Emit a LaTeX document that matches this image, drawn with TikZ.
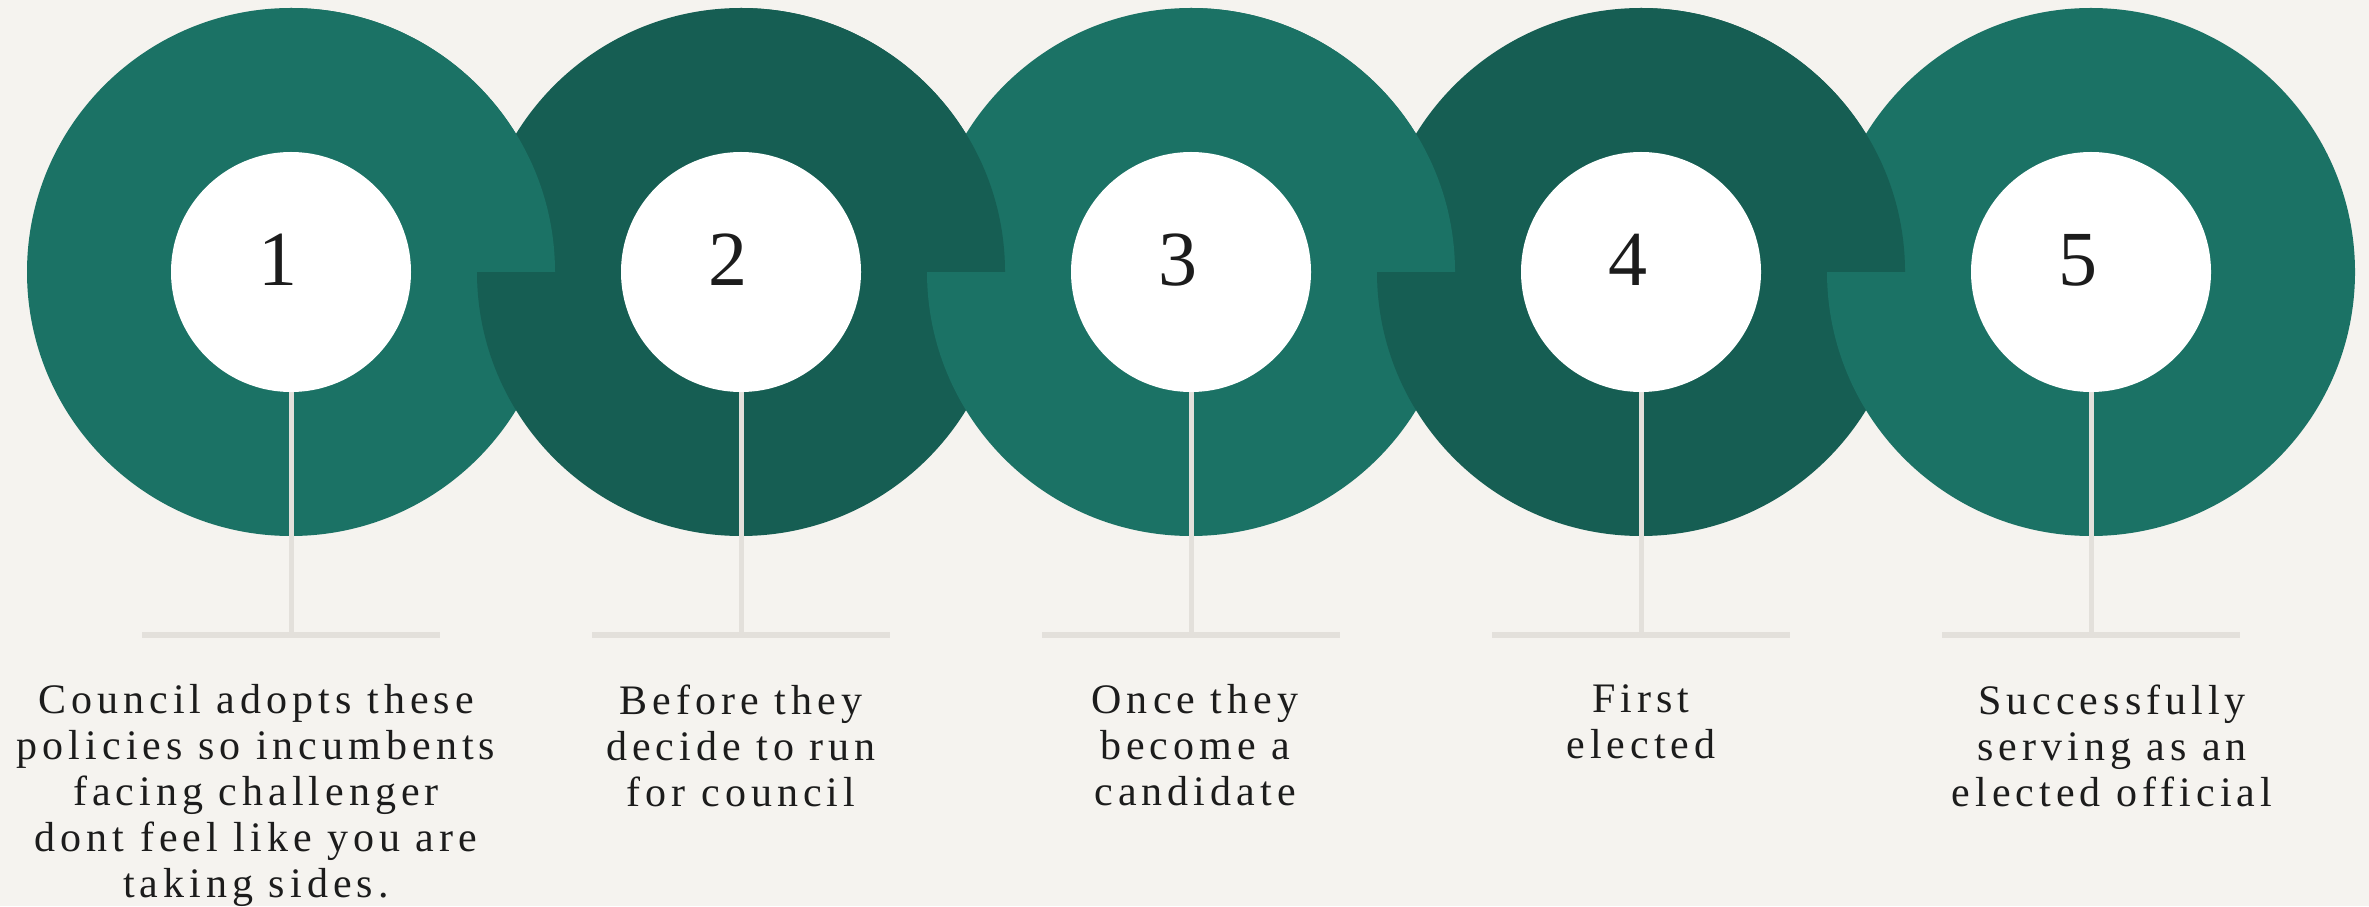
\documentclass[tikz,border=0pt]{standalone}
\usepackage{fontspec}
\setmainfont{Liberation Serif}
\newfontfamily\spacedserif[LetterSpace=12]{Liberation Serif}
\usepackage{xcolor}
\usetikzlibrary{positioning}

\definecolor{paper}{HTML}{F5F3EF}
\definecolor{tealA}{HTML}{1B7265}
\definecolor{tealB}{HTML}{165E53}
\definecolor{stemgray}{HTML}{E3E0DB}
\definecolor{ink}{HTML}{1C1C1C}

\begin{document}
\begin{tikzpicture}[x=1pt, y=1pt, node distance=450pt,
    spot/.style={coordinate},
    hole/.style={circle, fill=white, minimum size=240pt, inner sep=0pt},
    num/.style={font=\fontsize{78}{78}\selectfont, text=ink},
    bar/.style={rectangle, fill=stemgray, minimum width=298pt, minimum height=6pt, inner sep=0pt},
    stem/.style={draw=stemgray, line width=5pt},
    caption/.style={font=\spacedserif\fontsize{42}{46}\selectfont, text=ink, align=center, inner sep=0pt}]
    \path[use as bounding box, fill=paper] (0,0) rectangle (2369,906);

    \node[spot] (s1) at (291,634) {};
    \node[spot] (s2) [right of=s1] {};
    \node[spot] (s3) [right of=s2] {};
    \node[spot] (s4) [right of=s3] {};
    \node[spot] (s5) [right of=s4] {};

    % rings, each one over the one to its left
    \fill[tealA] (s1) circle (264);
    \fill[tealB] (s2) circle (264);
    \fill[tealA] (s3) circle (264);
    \fill[tealB] (s4) circle (264);
    \fill[tealA] (s5) circle (264);

    % upper right quarter laps back over the next ring
    \fill[tealA] (s1) -- ++(264,0) arc (0:90:264) -- cycle;
    \fill[tealB] (s2) -- ++(264,0) arc (0:90:264) -- cycle;
    \fill[tealA] (s3) -- ++(264,0) arc (0:90:264) -- cycle;
    \fill[tealB] (s4) -- ++(264,0) arc (0:90:264) -- cycle;

    \node[hole] (h1) at (s1) {};
    \node[hole] (h2) at (s2) {};
    \node[hole] (h3) at (s3) {};
    \node[hole] (h4) at (s4) {};
    \node[hole] (h5) at (s5) {};

    \node[num] (n1) at ([shift={(-13,12)}]s1) {1};
    \node[num] (n2) at ([shift={(-13,12)}]s2) {2};
    \node[num] (n3) at ([shift={(-13,12)}]s3) {3};
    \node[num] (n4) at ([shift={(-13,12)}]s4) {4};
    \node[num] (n5) at ([shift={(-13,12)}]s5) {5};

    \node[bar] (b1) [below=240pt of h1] {};
    \node[bar] (b2) [below=240pt of h2] {};
    \node[bar] (b3) [below=240pt of h3] {};
    \node[bar] (b4) [below=240pt of h4] {};
    \node[bar] (b5) [below=240pt of h5] {};

    \draw[stem] (h1) -- (b1);
    \draw[stem] (h2) -- (b2);
    \draw[stem] (h3) -- (b3);
    \draw[stem] (h4) -- (b4);
    \draw[stem] (h5) -- (b5);

    \node[caption] (t1) [below=46pt of b1, xshift=-35pt] {Council adopts these\\policies so incumbents\\facing challenger\\dont feel like you are\\taking sides.};
    \node[caption] (t2) [below=46pt of b2] {Before they\\decide to run\\for council};
    \node[caption] (t3) [below=46pt of b3, xshift=4pt] {Once they\\become a\\candidate};
    \node[caption] (t4) [below=46pt of b4] {First\\elected};
    \node[caption] (t5) [below=46pt of b5, xshift=21pt] {Successfully\\serving as an\\elected official};
\end{tikzpicture}
\end{document}
